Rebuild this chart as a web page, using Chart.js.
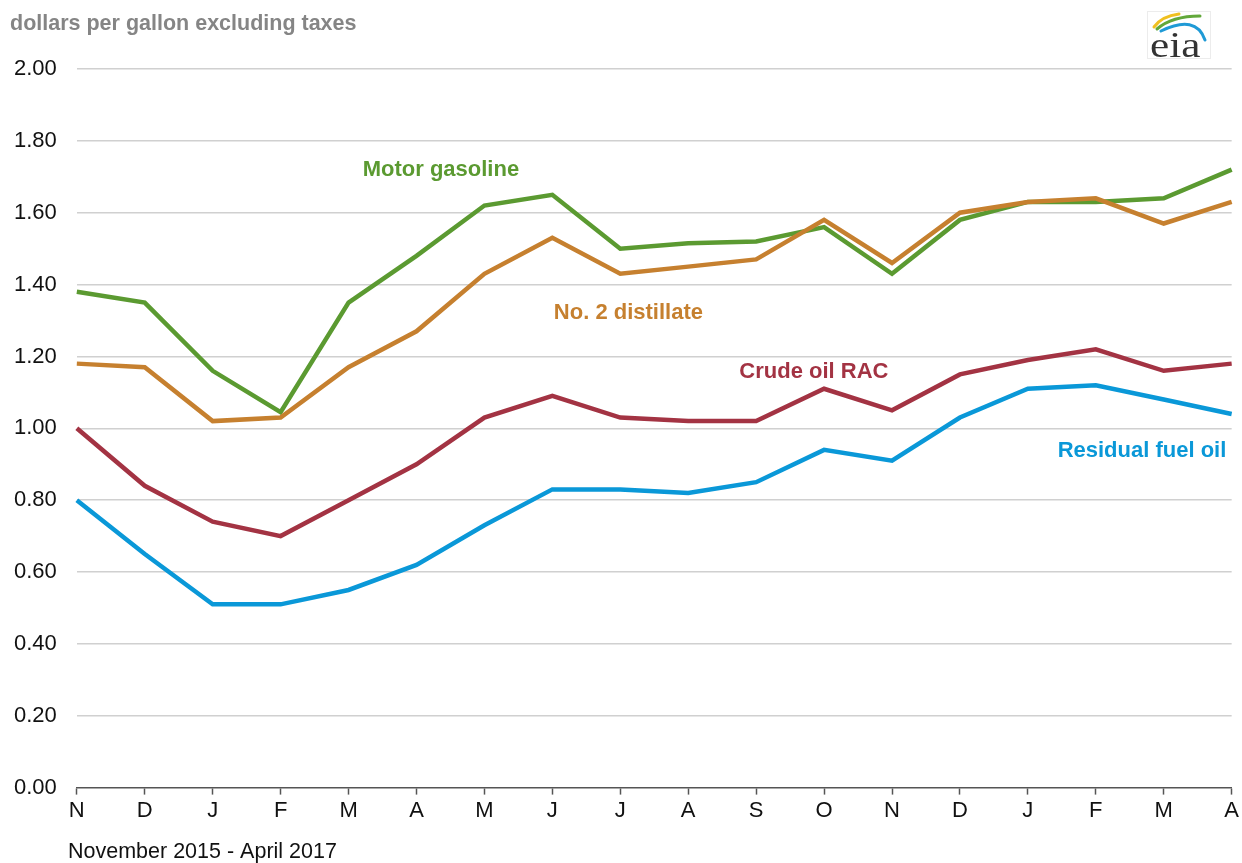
<!DOCTYPE html>
<html>
<head>
<meta charset="utf-8">
<title>Petroleum prices</title>
<script src="https://cdn.jsdelivr.net/npm/chart.js@4.4.0/dist/chart.umd.min.js"></script>
<style>
  body { margin: 0; background: #fff; }
  #wrap { width: 1242px; height: 863px; }
</style>
</head>
<body>
<div id="wrap"><canvas id="priceChart" width="1242" height="863"></canvas></div>
<script>
// months, Nov 2015 - Apr 2017
const months = ['N', 'D', 'J', 'F', 'M', 'A', 'M', 'J', 'J', 'A', 'S', 'O', 'N', 'D', 'J', 'F', 'M', 'A'];

const motorGasoline = [1.38, 1.35, 1.16, 1.045, 1.35, 1.48, 1.62, 1.65, 1.50, 1.515, 1.52, 1.56, 1.43, 1.58, 1.63, 1.63, 1.64, 1.72];
const distillate    = [1.18, 1.17, 1.02, 1.03, 1.17, 1.27, 1.43, 1.53, 1.43, 1.45, 1.47, 1.58, 1.46, 1.60, 1.63, 1.64, 1.57, 1.63];
const crudeOilRac   = [1.00, 0.84, 0.74, 0.70, 0.80, 0.90, 1.03, 1.09, 1.03, 1.02, 1.02, 1.11, 1.05, 1.15, 1.19, 1.22, 1.16, 1.18];
const residualFuel  = [0.80, 0.65, 0.51, 0.51, 0.55, 0.62, 0.73, 0.83, 0.83, 0.82, 0.85, 0.94, 0.91, 1.03, 1.11, 1.12, 1.08, 1.04];

const yTicks = [0, 0.2, 0.4, 0.6, 0.8, 1.0, 1.2, 1.4, 1.6, 1.8, 2.0];

const colors = {
    gasoline: '#5b9a31',
    distillate: '#c6802f',
    crude: '#a33343',
    residual: '#0a98d8'
};

// series labels placed in data space (x index, y value)
const seriesLabels = [
    { text: 'Motor gasoline', x: 5.36, y: 1.72, color: colors.gasoline },
    { text: 'No. 2 distillate', x: 8.12, y: 1.32, color: colors.distillate },
    { text: 'Crude oil RAC', x: 10.85, y: 1.156, color: colors.crude },
    { text: 'Residual fuel oil', x: 15.68, y: 0.936, color: colors.residual }
];

const FONT = '"Liberation Sans", Arial, sans-serif';

const overlayPlugin = {
    id: 'overlay',
    afterDatasetsDraw(chart) {
        const ctx = chart.ctx;
        const xs = chart.scales.x;
        const ys = chart.scales.y;
        ctx.save();
        ctx.font = 'bold 22px ' + FONT;
        ctx.textAlign = 'center';
        ctx.textBaseline = 'middle';
        seriesLabels.forEach(l => {
            ctx.fillStyle = l.color;
            ctx.fillText(l.text, xs.getPixelForValue(l.x), ys.getPixelForValue(l.y));
        });
        ctx.restore();
    },
    afterDraw(chart) {
        const ctx = chart.ctx;
        ctx.save();
        // unit header
        ctx.font = 'bold 21.5px ' + FONT;
        ctx.fillStyle = '#858585';
        ctx.textAlign = 'left';
        ctx.textBaseline = 'middle';
        ctx.fillText('dollars per gallon excluding taxes', 10, 24);

        // period note under the axis
        ctx.font = '21.5px ' + FONT;
        ctx.fillStyle = '#111';
        ctx.fillText('November 2015 - April 2017', 68, 852);

        // eia logo
        ctx.strokeStyle = '#ececec';
        ctx.lineWidth = 1;
        ctx.strokeRect(1147.5, 11.5, 63, 47);
        ctx.lineCap = 'round';
        ctx.lineWidth = 3;
        ctx.strokeStyle = '#f0c020';
        ctx.beginPath(); ctx.moveTo(1154, 27); ctx.quadraticCurveTo(1162, 16, 1179, 14); ctx.stroke();
        ctx.strokeStyle = '#62a83a';
        ctx.beginPath(); ctx.moveTo(1157, 29); ctx.quadraticCurveTo(1172, 16, 1200, 16); ctx.stroke();
        ctx.strokeStyle = '#1f9ad6';
        ctx.beginPath(); ctx.moveTo(1161, 31); ctx.quadraticCurveTo(1196, 14, 1205, 40); ctx.stroke();
        ctx.fillStyle = '#333';
        ctx.font = '36px "Liberation Serif", "Times New Roman", serif';
        ctx.textAlign = 'left';
        ctx.textBaseline = 'alphabetic';
        ctx.translate(1150, 57);
        ctx.scale(1.2, 1);
        ctx.fillText('eia', 0, 0);
        ctx.restore();
    }
};

function lineSet(label, data, color) {
    return {
        label: label,
        data: data,
        borderColor: color,
        backgroundColor: color,
        borderWidth: 4.5,
        pointRadius: 0,
        tension: 0,
        fill: false
    };
}

const ctx = document.getElementById('priceChart');
new Chart(ctx.getContext('2d'), {
    type: 'line',
    data: {
        labels: months,
        datasets: [
            lineSet('Residual fuel oil', residualFuel, colors.residual),
            lineSet('Crude oil RAC', crudeOilRac, colors.crude),
            lineSet('No. 2 distillate', distillate, colors.distillate),
            lineSet('Motor gasoline', motorGasoline, colors.gasoline)
        ]
    },
    options: {
        responsive: false,
        animation: false,
        layout: { padding: { top: 69, left: 14, right: 6, bottom: 36 } },
        scales: {
            x: {
                offset: false,
                grid: {
                    display: true,
                    drawOnChartArea: false,
                    drawTicks: true,
                    tickLength: 7,
                    tickColor: '#555',
                    tickWidth: 1.5
                },
                border: { display: true, color: '#555', width: 1.5 },
                ticks: {
                    color: '#111',
                    padding: 3,
                    maxRotation: 0,
                    autoSkip: false,
                    font: { family: FONT, size: 22 }
                }
            },
            y: {
                min: 0,
                max: 2,
                afterBuildTicks: axis => { axis.ticks = yTicks.map(v => ({ value: v })); },
                grid: {
                    drawTicks: false,
                    lineWidth: 1.5,
                    color: c => c.tick && c.tick.value === 0 ? 'rgba(0,0,0,0)' : '#d0d0d0'
                },
                border: { display: false },
                ticks: {
                    color: '#111',
                    padding: 10,
                    crossAlign: 'far',
                    font: { family: FONT, size: 22 },
                    callback: v => Number(v).toFixed(2)
                }
            }
        },
        plugins: {
            legend: { display: false },
            tooltip: { enabled: false }
        }
    },
    plugins: [overlayPlugin]
});
</script>
</body>
</html>
